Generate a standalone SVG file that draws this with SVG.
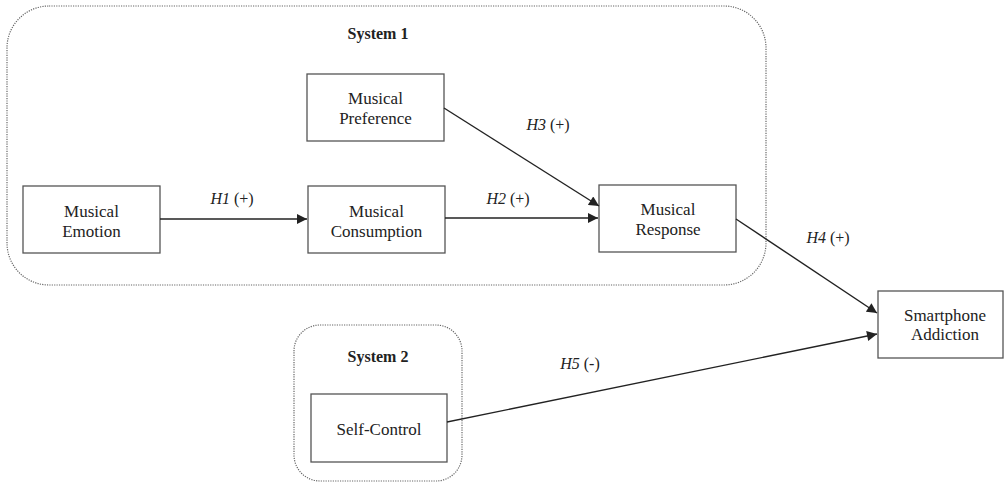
<svg xmlns="http://www.w3.org/2000/svg" width="1004" height="482" viewBox="0 0 1004 482">
<style>
.box{fill:#fff;stroke:#555;stroke-width:1.3}
.sys{fill:none;stroke:#666;stroke-width:1.2;stroke-dasharray:1.2 1.2}
.t{font-family:"Liberation Serif",serif;font-size:17px;fill:#222;text-anchor:middle}
.st{font-family:"Liberation Serif",serif;font-size:16px;font-weight:bold;fill:#222;text-anchor:middle}
.h{font-family:"Liberation Serif",serif;font-size:16px;fill:#222;text-anchor:middle}
.c{fill:none;stroke:#222;stroke-width:1.4}
</style>
<defs>
<marker id="ah" viewBox="0 0 10 10" refX="10" refY="5" markerWidth="11" markerHeight="10" markerUnits="userSpaceOnUse" orient="auto">
<path d="M0,0 L10,5 L0,10 z" fill="#222"/>
</marker>
</defs>
<rect width="1004" height="482" fill="#fff"/>
<g id="system1">
<rect class="sys" x="7" y="6" width="759" height="279" rx="42"/>
<text class="st" x="378" y="39">System 1</text>
</g>
<g id="system2">
<rect class="sys" x="294" y="325" width="168" height="156" rx="26"/>
<text class="st" x="378" y="362">System 2</text>
</g>
<g id="preference">
<rect class="box" x="307" y="74" width="137" height="67"/>
<text class="t" x="375.5" y="104">Musical</text>
<text class="t" x="375.5" y="124">Preference</text>
</g>
<g id="emotion">
<rect class="box" x="23" y="186" width="137" height="67"/>
<text class="t" x="91.5" y="217">Musical</text>
<text class="t" x="91.5" y="237">Emotion</text>
</g>
<g id="consumption">
<rect class="box" x="308" y="186" width="137" height="67"/>
<text class="t" x="376.5" y="217">Musical</text>
<text class="t" x="376.5" y="237">Consumption</text>
</g>
<g id="response">
<rect class="box" x="599" y="185" width="137" height="67"/>
<text class="t" x="668" y="215">Musical</text>
<text class="t" x="668" y="235">Response</text>
</g>
<g id="addiction">
<rect class="box" x="878" y="291" width="125" height="67"/>
<text class="t" x="945" y="321">Smartphone</text>
<text class="t" x="945" y="340">Addiction</text>
</g>
<g id="selfcontrol">
<rect class="box" x="311" y="394" width="136" height="68"/>
<text class="t" x="379" y="435">Self-Control</text>
</g>
<g id="connectors">
<line class="c" x1="160" y1="219" x2="307" y2="219" marker-end="url(#ah)"/>
<line class="c" x1="445" y1="218" x2="598" y2="218" marker-end="url(#ah)"/>
<line class="c" x1="444" y1="108" x2="599" y2="206" marker-end="url(#ah)"/>
<line class="c" x1="736" y1="219" x2="877" y2="313" marker-end="url(#ah)"/>
<line class="c" x1="447" y1="422" x2="877" y2="334" marker-end="url(#ah)"/>
<text class="h" x="232" y="204"><tspan font-style="italic">H1</tspan> (+)</text>
<text class="h" x="508" y="204"><tspan font-style="italic">H2</tspan> (+)</text>
<text class="h" x="548" y="130"><tspan font-style="italic">H3</tspan> (+)</text>
<text class="h" x="828" y="243"><tspan font-style="italic">H4</tspan> (+)</text>
<text class="h" x="580" y="369"><tspan font-style="italic">H5</tspan> (-)</text>
</g>
</svg>
